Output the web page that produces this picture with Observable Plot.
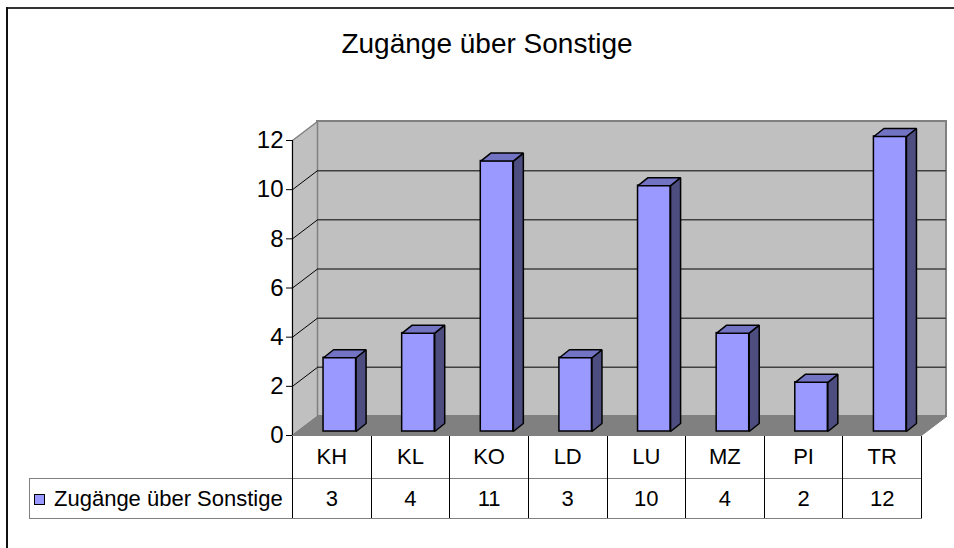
<!DOCTYPE html>
<html>
<head>
<meta charset="utf-8">
<script src="https://cdn.jsdelivr.net/npm/d3@7"></script>
<script src="https://cdn.jsdelivr.net/npm/@observablehq/plot@0.6"></script>
<style>
  html, body { margin: 0; padding: 0; background: #fff; }
  #wrap { position: relative; width: 954px; height: 548px; overflow: hidden;
          font-family: "Liberation Sans", Arial, sans-serif; color: #000; }
  #chart { position: absolute; left: 0; top: 0; }
  #chart svg { display: block; background: transparent; }
  #title { position: absolute; left: 0; top: 28px; width: 974px; text-align: center;
           font-size: 28px; line-height: 32px; white-space: nowrap; }
  #frameTop { position: absolute; left: 7px; top: 7px; width: 947px; height: 2px; background: #333; }
  #frameLeft { position: absolute; left: 6px; top: 7px; width: 2px; height: 541px; background: #111; }
  #dtable { position: absolute; left: 29px; top: 436px; border-collapse: collapse; table-layout: fixed;
            font-size: 22px; }
  #dtable td { padding: 0; text-align: center; vertical-align: middle; white-space: nowrap; }
  #dtable tr.cat td { height: 42px; border-left: 1px solid #000; border-right: 1px solid #000; }
  #dtable tr.cat td.blank { border: none; border-right: 1px solid #000; }
  #dtable tr.val td { height: 39px; border: 1px solid #808080; border-left: 1px solid #000; border-right: 1px solid #000; }
  #dtable tr.val td.legend { text-align: left; border-left: 1px solid #808080; }
  .swatch { display: inline-block; width: 9px; height: 9px; border: 1px solid #000; background: #9999FF;
            margin-left: 4px; margin-right: 9px; vertical-align: 1px; }
</style>
</head>
<body>
<div id="wrap">
  <div id="chart"></div>
  <div id="frameTop"></div>
  <div id="frameLeft"></div>
  <div id="title"></div>
  <table id="dtable"></table>
</div>
<script>
// ---- data ----
const categories = ["KH", "KL", "KO", "LD", "LU", "MZ", "PI", "TR"];
const values = [3, 4, 11, 3, 10, 4, 2, 12];
const seriesName = "Zugänge über Sonstige";
const chartTitle = "Zugänge über Sonstige";
const yTicks = [0, 2, 4, 6, 8, 10, 12];
const yMax = 12;

// ---- layout (pixels) ----
const W = 954, H = 548;
const plotLeft = 292, plotRight = 921, plotTop = 140, plotBottom = 435;
const wallDx = 25, wallDy = 19;      // depth of back wall
const barDx = 10, barDy = 8;         // depth of each column
const barShiftX = 8, barShiftY = -4; // columns sit slightly inside the box
const barHalf = 0.207;               // half column width, in category units

const n = categories.length;
const kx = n / (plotRight - plotLeft);   // data units per pixel (x)
const ky = yMax / (plotBottom - plotTop); // data units per pixel (y)

const rows = categories.map((c, i) => ({c, i, v: values[i], x1: i + 0.5 - barHalf, x2: i + 0.5 + barHalf}));

const sidePts = rows.flatMap(r => [
  {id: r.c, x: r.x2, y: 0},
  {id: r.c, x: r.x2, y: r.v},
  {id: r.c, x: r.x2 + barDx * kx, y: r.v + barDy * ky},
  {id: r.c, x: r.x2 + barDx * kx, y: barDy * ky}
]);
const topPts = rows.flatMap(r => [
  {id: r.c, x: r.x1, y: r.v},
  {id: r.c, x: r.x2, y: r.v},
  {id: r.c, x: r.x2 + barDx * kx, y: r.v + barDy * ky},
  {id: r.c, x: r.x1 + barDx * kx, y: r.v + barDy * ky}
]);
const sideWall = [
  {x: 0, y: 0}, {x: 0, y: yMax}, {x: wallDx * kx, y: yMax + wallDy * ky}, {x: wallDx * kx, y: wallDy * ky}
];
const floor = [
  {x: 0, y: 0}, {x: n, y: 0}, {x: n + wallDx * kx, y: wallDy * ky}, {x: wallDx * kx, y: wallDy * ky}
];
const innerTicks = yTicks.filter(t => t > 0 && t < yMax);

const plot = Plot.plot({
  width: W,
  height: H,
  marginLeft: plotLeft,
  marginRight: W - plotRight,
  marginTop: plotTop,
  marginBottom: H - plotBottom,
  style: {fontSize: "24px", fontFamily: "'Liberation Sans', Arial, sans-serif", background: "transparent", color: "#000", overflow: "visible"},
  x: {domain: [0, n], axis: null},
  y: {domain: [0, yMax]},
  marks: [
    // back wall
    Plot.rect([0], {x1: 0, x2: n, y1: 0, y2: yMax, dx: wallDx, dy: -wallDy, fill: "#c0c0c0", stroke: "#808080", strokeWidth: 2}),
    // side wall
    Plot.line(sideWall, {x: "x", y: "y", curve: "linear-closed", fill: "#c0c0c0", stroke: "#808080", strokeWidth: 1.5}),
    // floor
    Plot.line(floor, {x: "x", y: "y", curve: "linear-closed", fill: "#808080", stroke: "#808080", strokeWidth: 1}),
    // gridlines on back wall
    Plot.ruleY(innerTicks, {x1: 0, x2: n, dx: wallDx, dy: -wallDy, stroke: "#404040", strokeWidth: 1.5}),
    // gridlines on side wall
    Plot.link(innerTicks, {x1: 0, y1: d => d, x2: wallDx * kx, y2: d => d + wallDy * ky, stroke: "#000", strokeWidth: 1}),
    // columns
    Plot.rectY(rows, {x1: "x1", x2: "x2", y: "v", dx: barShiftX, dy: barShiftY, fill: "#9999FF", stroke: "#000", strokeWidth: 1.5}),
    Plot.line(sidePts, {x: "x", y: "y", z: "id", curve: "linear-closed", dx: barShiftX, dy: barShiftY, fill: "#4D4D80", stroke: "#000", strokeWidth: 1.5, strokeLinejoin: "miter"}),
    Plot.line(topPts, {x: "x", y: "y", z: "id", curve: "linear-closed", dx: barShiftX, dy: barShiftY, fill: "#7373C4", stroke: "#000", strokeWidth: 1.5, strokeLinejoin: "miter"}),
    // y axis
    Plot.axisY({ticks: yTicks, tickSize: 6, tickPadding: 3, tickFormat: d => String(d), label: null, stroke: "#000", strokeWidth: 1}),
    Plot.ruleX([0], {y1: 0, y2: yMax, stroke: "#000", strokeWidth: 1})
  ]
});
document.getElementById("chart").appendChild(plot);
document.getElementById("title").textContent = chartTitle;

// ---- data table below the chart, columns from the x scale ----
const xs = plot.scale("x");
const step = (xs.range[1] - xs.range[0]) / n;
const legendW = xs.range[0] - 29;
const table = d3.select("#dtable");
const cg = table.append("colgroup");
cg.append("col").style("width", legendW + "px");
categories.forEach(() => cg.append("col").style("width", step + "px"));
table.style("width", (legendW + step * n) + "px");
const r1 = table.append("tr").attr("class", "cat");
r1.append("td").attr("class", "blank");
categories.forEach(c => r1.append("td").text(c));
const r2 = table.append("tr").attr("class", "val");
const lg = r2.append("td").attr("class", "legend");
lg.append("span").attr("class", "swatch");
lg.append("span").text(seriesName);
values.forEach(v => r2.append("td").text(v));
</script>
</body>
</html>
